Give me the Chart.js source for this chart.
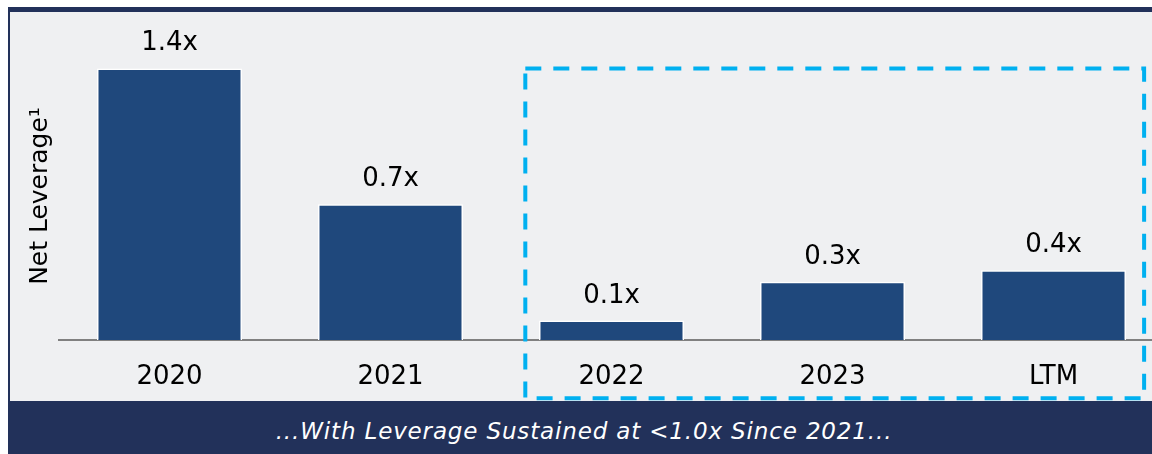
<!DOCTYPE html>
<html>
<head>
<meta charset="utf-8">
<script src="https://cdn.jsdelivr.net/npm/chart.js@4.4.0/dist/chart.umd.min.js"></script>
<style>
    html, body {
        margin: 0;
        padding: 0;
        width: 1152px;
        height: 454px;
        overflow: hidden;
        background: #ffffff;
        font-family: 'DejaVu Sans', sans-serif;
    }
    #panel {
        position: absolute;
        left: 8px;
        top: 7px;
        width: 1160px;
        height: 394px;
        box-sizing: border-box;
        background: #eff0f2;
        border-top: 5px solid #22315a;
        border-left: 2px solid #22315a;
    }
    #chartWrap {
        position: absolute;
        left: 0;
        top: 0;
        width: 1164px;
        height: 401px;
    }
    #banner {
        position: absolute;
        left: 8px;
        top: 401px;
        width: 1152px;
        height: 53px;
        background: #22315a;
        color: #ffffff;
        font: italic 23px 'DejaVu Sans', sans-serif;
        letter-spacing: 0.85px;
        text-align: center;
        line-height: 60px;
        overflow: hidden;
        white-space: nowrap;
    }
</style>
</head>
<body>
<div id="panel"></div>
<div id="chartWrap"><canvas id="leverageChart" width="1164" height="401"></canvas></div>
<div id="banner">...With Leverage Sustained at &lt;1.0x Since 2021...</div>

<script>
// Données
const periods = ['2020', '2021', '2022', '2023', 'LTM'];
const netLeverage = [1.40, 0.70, 0.10, 0.30, 0.36];
const yAxisTitle = 'Net Leverage\u00B9';

// Libellés de valeur au-dessus des barres
const valueLabelsPlugin = {
    id: 'valueLabels',
    afterDatasetsDraw(chart) {
        const ctx = chart.ctx;
        const meta = chart.getDatasetMeta(0);
        ctx.save();
        ctx.font = '26px "DejaVu Sans"';
        ctx.fillStyle = '#000000';
        ctx.textAlign = 'center';
        ctx.textBaseline = 'alphabetic';
        meta.data.forEach((bar, i) => {
            const text = netLeverage[i].toFixed(1) + 'x';
            ctx.fillText(text, bar.x, bar.y - 18);
        });
        ctx.restore();
    }
};

// Cadre pointillé autour de 2022 - LTM
const dashedBoxPlugin = {
    id: 'dashedBox',
    afterDraw(chart) {
        const x = chart.scales.x;
        const y = chart.scales.y;
        const left = x.getPixelForValue(1.61);
        const right = x.getPixelForValue(4.41);
        const top = y.getPixelForValue(1.4);
        const bottom = y.getPixelForValue(-0.3);
        const ctx = chart.ctx;
        ctx.save();
        ctx.strokeStyle = '#00b0f0';
        ctx.lineWidth = 4;
        ctx.setLineDash([16, 12]);
        ctx.strokeRect(left, top, right - left, bottom - top);
        ctx.restore();
    }
};

const ctx = document.getElementById('leverageChart').getContext('2d');
new Chart(ctx, {
    type: 'bar',
    data: {
        labels: periods,
        datasets: [{
            data: netLeverage,
            backgroundColor: '#1f487c',
            borderColor: '#ffffff',
            borderWidth: 1.5,
            borderSkipped: 'bottom',
            barPercentage: 0.656,
            categoryPercentage: 1
        }]
    },
    options: {
        responsive: false,
        animation: false,
        layout: {
            padding: { top: 52, left: 0, right: 0, bottom: 0 }
        },
        plugins: {
            legend: { display: false },
            tooltip: { enabled: false }
        },
        scales: {
            x: {
                grid: { display: false, drawTicks: false },
                border: { display: true, color: '#808080', width: 2 },
                ticks: {
                    color: '#000000',
                    font: { family: 'DejaVu Sans', size: 26 },
                    padding: 22,
                    maxRotation: 0
                },
                afterFit(scale) {
                    scale.height = 61;
                }
            },
            y: {
                min: 0,
                max: 1.485,
                grid: { display: false },
                border: { display: false },
                ticks: { display: false },
                title: {
                    display: true,
                    text: yAxisTitle,
                    color: '#000000',
                    font: { family: 'DejaVu Sans', size: 25 },
                    padding: { top: 25, bottom: 0 }
                },
                afterFit(scale) {
                    scale.width = 59;
                }
            }
        }
    },
    plugins: [valueLabelsPlugin, dashedBoxPlugin]
});
</script>
</body>
</html>
